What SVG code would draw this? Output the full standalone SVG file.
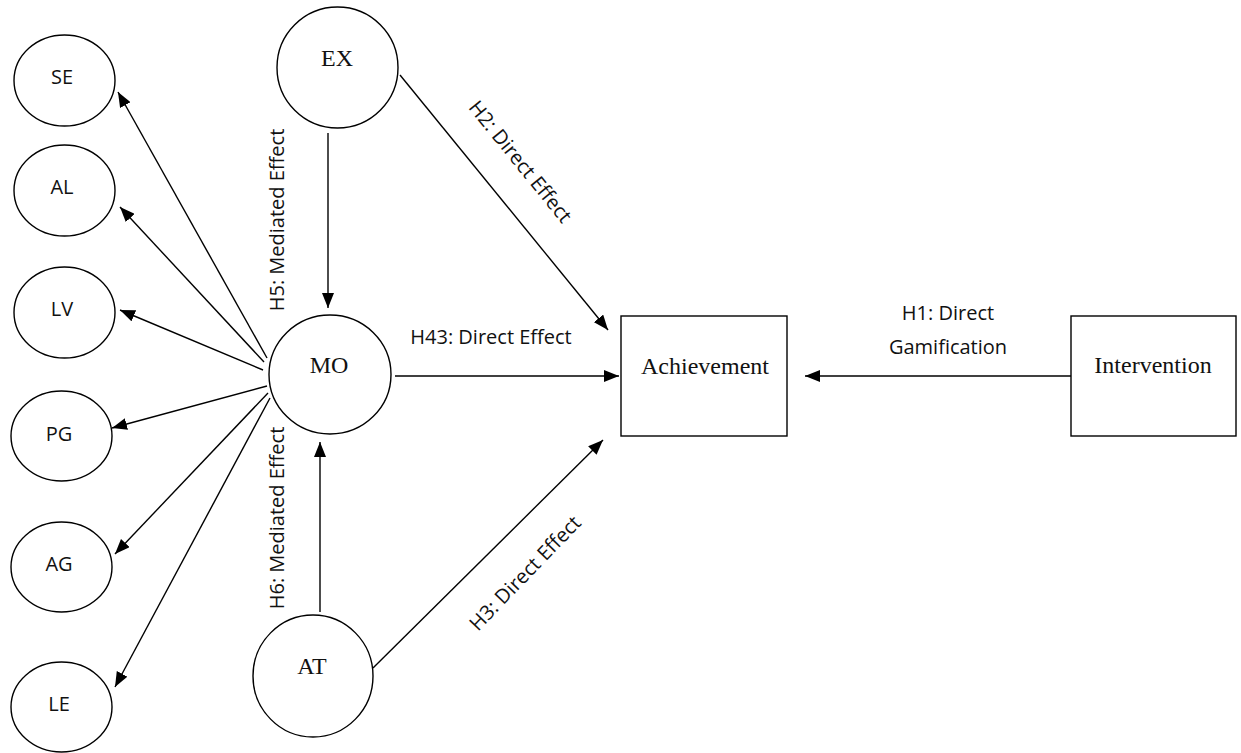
<svg xmlns="http://www.w3.org/2000/svg" width="1241" height="753" viewBox="0 0 1241 753">
<style>
.shape{fill:#fff;stroke:#000;stroke-width:1.4}
.edge{fill:none;stroke:#000;stroke-width:1.4}
.sans{font-family:"Open Sans","Noto Sans","Liberation Sans",sans-serif;font-size:20px;fill:#111}
.serif{font-family:"Liberation Serif","Times New Roman",serif;font-size:24px;fill:#111}
</style>
<defs>
<marker id="arr" markerUnits="userSpaceOnUse" markerWidth="15" markerHeight="12" refX="15" refY="6" orient="auto">
<path d="M0,0 L15,6 L0,12 z" fill="#000"/>
</marker>
</defs>
<rect width="1241" height="753" fill="#fff"/>
<g id="connectors">
<line class="edge" x1="267" y1="358" x2="118" y2="92" marker-end="url(#arr)"/>
<line class="edge" x1="264" y1="362" x2="120" y2="207" marker-end="url(#arr)"/>
<line class="edge" x1="263" y1="370" x2="120" y2="310" marker-end="url(#arr)"/>
<line class="edge" x1="267" y1="386" x2="112" y2="428" marker-end="url(#arr)"/>
<line class="edge" x1="268" y1="393" x2="115" y2="554" marker-end="url(#arr)"/>
<line class="edge" x1="270" y1="398" x2="115" y2="687" marker-end="url(#arr)"/>
<line class="edge" x1="328" y1="133" x2="328" y2="308" marker-end="url(#arr)"/>
<line class="edge" x1="320" y1="612" x2="320" y2="442" marker-end="url(#arr)"/>
<line class="edge" x1="400" y1="75" x2="608" y2="330" marker-end="url(#arr)"/>
<line class="edge" x1="395" y1="376" x2="619" y2="376" marker-end="url(#arr)"/>
<line class="edge" x1="373" y1="668" x2="603" y2="440" marker-end="url(#arr)"/>
<line class="edge" x1="1071" y1="376" x2="805" y2="376" marker-end="url(#arr)"/>
<text class="sans" transform="translate(284,220) rotate(-90)" text-anchor="middle">H5: Mediated Effect</text>
<text class="sans" transform="translate(284,518) rotate(-90)" text-anchor="middle">H6: Mediated Effect</text>
<text class="sans" transform="translate(515,166) rotate(51)" text-anchor="middle">H2: Direct Effect</text>
<text class="sans" transform="translate(530,578) rotate(-46)" text-anchor="middle">H3: Direct Effect</text>
<text class="sans" x="491" y="344" text-anchor="middle">H43: Direct Effect</text>
<text class="sans" x="948" y="320" text-anchor="middle">H1: Direct</text>
<text class="sans" x="948" y="354" text-anchor="middle">Gamification</text>
</g>
<g id="SE"><ellipse class="shape" cx="64.5" cy="80.5" rx="50.5" ry="45.5"/><text class="sans" x="62" y="84" text-anchor="middle">SE</text></g>
<g id="AL"><ellipse class="shape" cx="64.5" cy="190.5" rx="50.5" ry="45.5"/><text class="sans" x="62" y="194" text-anchor="middle">AL</text></g>
<g id="LV"><ellipse class="shape" cx="64.5" cy="312.5" rx="50.5" ry="45.5"/><text class="sans" x="62" y="316" text-anchor="middle">LV</text></g>
<g id="PG"><ellipse class="shape" cx="61.5" cy="436" rx="50.5" ry="45"/><text class="sans" x="59" y="441" text-anchor="middle">PG</text></g>
<g id="AG"><ellipse class="shape" cx="61.5" cy="567" rx="50.5" ry="45"/><text class="sans" x="59" y="571" text-anchor="middle">AG</text></g>
<g id="LE"><ellipse class="shape" cx="61.5" cy="707" rx="50.5" ry="45"/><text class="sans" x="59" y="711" text-anchor="middle">LE</text></g>
<g id="EX"><ellipse class="shape" cx="337.5" cy="67.5" rx="60.5" ry="60.5"/><text class="serif" x="337" y="66" text-anchor="middle">EX</text></g>
<g id="MO"><ellipse class="shape" cx="330" cy="374.5" rx="61" ry="59.5"/><text class="serif" x="329" y="373" text-anchor="middle">MO</text></g>
<g id="AT"><ellipse class="shape" cx="313" cy="676" rx="60" ry="61"/><text class="serif" x="312" y="674" text-anchor="middle">AT</text></g>
<g id="Achievement"><rect class="shape" x="621" y="316" width="166" height="120"/><text class="serif" x="705" y="374" text-anchor="middle">Achievement</text></g>
<g id="Intervention"><rect class="shape" x="1071" y="316" width="165" height="120"/><text class="serif" x="1153" y="373" text-anchor="middle">Intervention</text></g>
</svg>
